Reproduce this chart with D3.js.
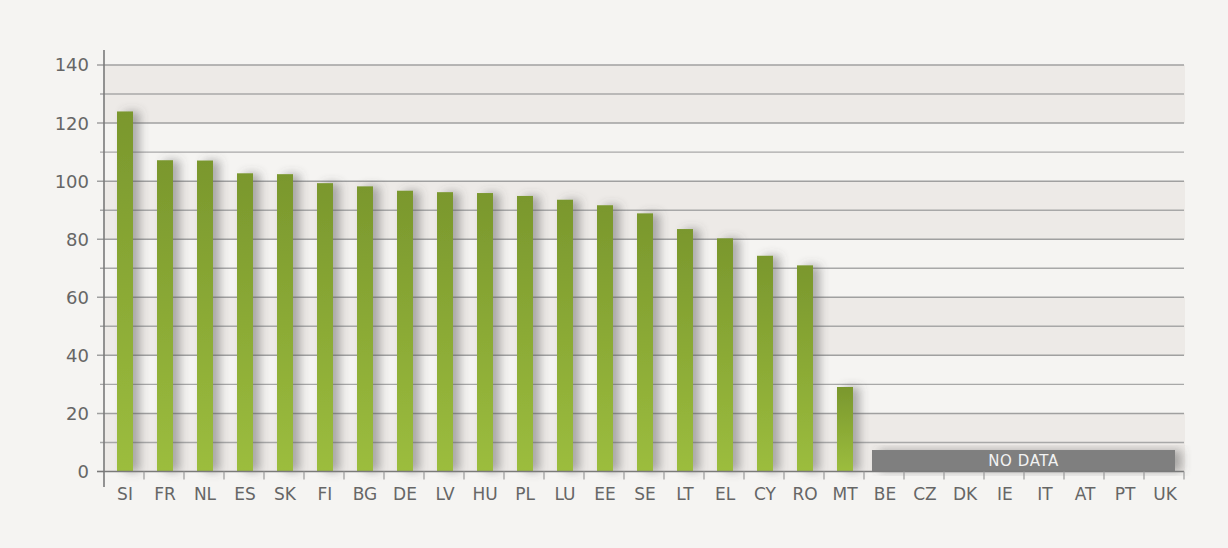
<!DOCTYPE html>
<html><head><meta charset="utf-8">
<script src="https://cdn.jsdelivr.net/npm/d3@7"></script>
<style>
html,body{margin:0;padding:0;background:#f5f4f2;}
svg{display:block;}
text{font-family:"DejaVu Sans",sans-serif;}
</style></head>
<body>
<svg id="chart" width="1228" height="548"></svg>
<script>
const categories = ["SI","FR","NL","ES","SK","FI","BG","DE","LV","HU","PL","LU","EE","SE","LT","EL","CY","RO","MT","BE","CZ","DK","IE","IT","AT","PT","UK"];
const values = [124,107.2,107.1,102.7,102.4,99.3,98.2,96.7,96.2,95.9,94.9,93.6,91.7,88.9,83.5,80.3,74.3,71,29.1,null,null,null,null,null,null,null,null];
const noDataCategories = ["BE","CZ","DK","IE","IT","AT","PT","UK"];
const noDataLabel = "NO DATA";
const noDataHeight = [7.4];
const yTicks = [0,20,40,60,80,100,120,140];
const yMinor = [10,30,50,70,90,110,130];

const svg = d3.select("#chart");
const x0 = 104, x1 = 1184;
const y = d3.scaleLinear().domain([0,140]).range([471.5,65]);
const x = d3.scaleBand().domain(categories).range([x0,x1]).paddingInner(0).paddingOuter(0);

const defs = svg.append("defs");
const grad = defs.append("linearGradient").attr("id","barGrad").attr("x1",0).attr("y1",0).attr("x2",0).attr("y2",1);
grad.append("stop").attr("offset","0%").attr("stop-color","#7a972d");
grad.append("stop").attr("offset","100%").attr("stop-color","#9cbd3e");
const f = defs.append("filter").attr("id","shadow").attr("x","-50%").attr("y","-20%").attr("width","300%").attr("height","140%");
f.append("feDropShadow").attr("dx",7).attr("dy",0).attr("stdDeviation",5).attr("flood-color","#555").attr("flood-opacity",0.45);

// bands
for (let i=0;i<yTicks.length-1;i+=2){
  svg.append("rect").attr("x",x0).attr("width",x1-x0+1)
    .attr("y",y(yTicks[i+1])).attr("height",y(yTicks[i])-y(yTicks[i+1]))
    .attr("fill","#edeae7");
}
// minor gridlines
svg.append("g").selectAll("line").data(yMinor).join("line")
  .attr("x1",100).attr("x2",x1).attr("y1",d=>y(d)).attr("y2",d=>y(d))
  .attr("stroke","#a8a8a8").attr("stroke-width",1.4);
// major gridlines
svg.append("g").selectAll("line").data(yTicks.filter(d=>d>0)).join("line")
  .attr("x1",97).attr("x2",x1).attr("y1",d=>y(d)).attr("y2",d=>y(d))
  .attr("stroke","#a0a0a0").attr("stroke-width",1.5);

// y labels
svg.append("g").selectAll("text").data(yTicks).join("text")
  .attr("x",89).attr("y",d=>y(d)).attr("dy","0.36em").attr("text-anchor","end")
  .attr("font-size",18).attr("fill","#666").text(d=>d);

// bars
const bw = 16;
svg.append("g").selectAll("rect").data(categories.map((c,i)=>({c,v:values[i]})).filter(d=>d.v!=null)).join("rect")
  .attr("x",d=>x(d.c)+x.bandwidth()/2-bw/2+1).attr("width",bw)
  .attr("y",d=>y(d.v)).attr("height",d=>y(0)-y(d.v))
  .attr("fill","url(#barGrad)").attr("filter","url(#shadow)");

// no data bar
const nd0 = x(noDataCategories[0]) + 8;
const nd1 = x(noDataCategories[noDataCategories.length-1]) + x.bandwidth() - 9;
svg.append("rect").attr("x",nd0).attr("width",nd1-nd0)
  .attr("y",y(noDataHeight[0])).attr("height",y(0)-y(noDataHeight[0]))
  .attr("fill","#7f7f7f").attr("filter","url(#shadow)");
svg.append("text").attr("x",(nd0+nd1)/2).attr("y",(y(noDataHeight[0])+y(0))/2).attr("dy","0.36em")
  .attr("text-anchor","middle").attr("font-size",15).attr("letter-spacing",0.6).attr("fill","#f2f2f2").text(noDataLabel);

// axes
svg.append("line").attr("x1",x0).attr("x2",x1).attr("y1",y(0)).attr("y2",y(0)).attr("stroke","#7a7a7a").attr("stroke-width",1.6);
svg.append("line").attr("x1",x0).attr("x2",x0).attr("y1",50).attr("y2",487).attr("stroke","#7a7a7a").attr("stroke-width",1.6);
svg.append("line").attr("x1",97).attr("x2",x0).attr("y1",y(0)).attr("y2",y(0)).attr("stroke","#7a7a7a").attr("stroke-width",1.6);
// x ticks between categories
svg.append("g").selectAll("line").data(categories.slice(1).concat(["_end"])).join("line")
  .attr("x1",(d,i)=>x0+(i+1)*x.bandwidth()).attr("x2",(d,i)=>x0+(i+1)*x.bandwidth())
  .attr("y1",y(0)).attr("y2",y(0)+8).attr("stroke","#9a9a9a").attr("stroke-width",1.2);
// x labels
svg.append("g").selectAll("text").data(categories).join("text")
  .attr("x",d=>x(d)+x.bandwidth()/2+1).attr("y",494).attr("dy","0.36em").attr("text-anchor","middle")
  .attr("font-size",17).attr("fill","#666").text(d=>d);
</script>
</body></html>
